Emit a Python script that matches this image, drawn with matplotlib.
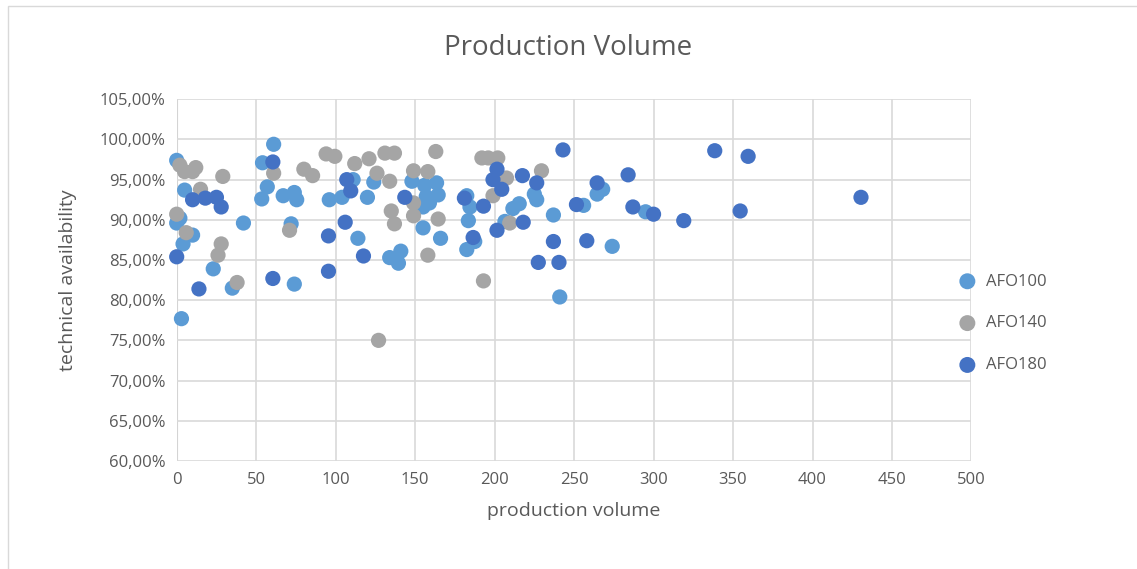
import matplotlib.pyplot as plt
from matplotlib.ticker import FuncFormatter, MultipleLocator
from matplotlib.patches import Rectangle

# data (production volume, technical availability %)
afo100_x = [0, 5, 2, 0, 42, 10, 4, 23, 35, 3, 61, 54, 57, 53.5, 67, 74, 75.5, 96, 72, 74,
            111, 104, 124, 120, 148, 156, 163.5, 164.5, 157, 159, 155, 114, 155, 166,
            134, 141, 139.5, 182.5, 184.5, 183.5, 206.5, 187.5, 182.5, 225, 226.5, 211.5,
            215.5, 237, 256, 268, 264.5, 295, 274, 241]
afo100_y = [97.4, 93.7, 90.2, 89.6, 89.6, 88.1, 87.0, 83.9, 81.5, 77.7, 99.4, 97.1, 94.1,
            92.6, 93.0, 93.4, 92.5, 92.5, 89.5, 82.0, 95.0, 92.8, 94.7, 92.8, 94.8, 94.3,
            94.6, 93.1, 92.9, 92.1, 91.6, 87.7, 89.0, 87.7, 85.3, 86.1, 84.6, 93.0, 91.6,
            89.9, 89.8, 87.3, 86.3, 93.2, 92.5, 91.4, 92.0, 90.6, 91.8, 93.8, 93.2, 91.0,
            86.7, 80.4]

afo140_x = [2, 5, 10, 12, 29, 15, 0, 6, 28, 26, 38, 61, 94, 99.5, 80, 85.5, 71, 112, 121,
            131, 137, 163, 126, 134, 149, 158, 149, 149, 135, 137, 164.5, 158, 193, 127,
            192, 196, 202, 207.5, 199, 209.5, 229.5]
afo140_y = [96.8, 96.0, 96.0, 96.5, 95.4, 93.8, 90.7, 88.4, 87.0, 85.6, 82.2, 95.8, 98.2,
            97.9, 96.3, 95.5, 88.7, 97.0, 97.6, 98.3, 98.3, 98.5, 95.8, 94.8, 96.1, 96.0,
            92.1, 90.5, 91.1, 89.5, 90.1, 85.6, 82.4, 75.0, 97.7, 97.7, 97.7, 95.2, 93.0,
            89.6, 96.1]

afo180_x = [10, 18, 25, 28, 0, 14, 60.5, 95.5, 60.5, 95.5, 107, 109.5, 106, 117.5, 143.5,
            201.5, 199, 204.5, 181, 193, 201.5, 186.5, 217.5, 226.5, 243, 218, 237, 227.5,
            240.5, 251.5, 264.5, 284, 287, 300, 258, 319, 338.5, 359.5, 354.5, 430.5]
afo180_y = [92.5, 92.7, 92.8, 91.6, 85.4, 81.4, 97.2, 88.0, 82.7, 83.6, 95.0, 93.6, 89.7,
            85.5, 92.8, 96.3, 95.0, 93.8, 92.7, 91.7, 88.7, 87.8, 95.5, 94.6, 98.7, 89.7,
            87.3, 84.7, 84.7, 91.9, 94.6, 95.6, 91.6, 90.7, 87.4, 89.9, 98.6, 97.9, 91.1,
            92.8]

series = [("AFO100", afo100_x, afo100_y, "#5B9BD5"),
          ("AFO140", afo140_x, afo140_y, "#A5A5A5"),
          ("AFO180", afo180_x, afo180_y, "#4472C4")]

plt.rcParams['font.family'] = ['Open Sans', 'DejaVu Sans']

fig = plt.figure(figsize=(11.37, 5.69), dpi=100)
ax = fig.add_axes([0.1554, 0.19, 0.699, 0.6355])

for name, xs, ys, col in series:
    ax.scatter(xs, [v / 100 for v in ys], s=120, color=col, label=name,
               edgecolors='none', zorder=3, clip_on=False)

ax.set_xlim(0, 500)
ax.set_ylim(0.60, 1.05)
ax.xaxis.set_major_locator(MultipleLocator(50))
ax.yaxis.set_major_locator(MultipleLocator(0.05))
ax.yaxis.set_major_formatter(FuncFormatter(lambda v, p: f"{v * 100:.2f}%".replace('.', ',')))
ax.grid(True, color='#D9D9D9', linewidth=1.2, zorder=0)
ax.tick_params(length=0, labelsize=12, labelcolor='#595959', pad=8)
for s in ax.spines.values():
    s.set_visible(False)
ax.axvline(0, color='#BFBFBF', linewidth=1.5, zorder=1)

ax.set_xlabel("production volume", fontsize=14, color='#595959', labelpad=10)
ax.set_ylabel("technical availability", fontsize=14, color='#595959', labelpad=16)
fig.text(0.5, 0.915, "Production Volume", ha='center', va='center',
         fontsize=20, color='#595959')

leg = ax.legend(loc='center left', bbox_to_anchor=(0.955, 0.38), frameon=False,
                fontsize=12, labelcolor='#595959', handletextpad=0.1,
                labelspacing=1.55, markerscale=1.05)

fig.patches.append(Rectangle((0.007, -0.01), 1.0, 1.0, transform=fig.transFigure,
                             fill=False, edgecolor='#D9D9D9', linewidth=1))

fig.savefig("out.png", dpi=100)
